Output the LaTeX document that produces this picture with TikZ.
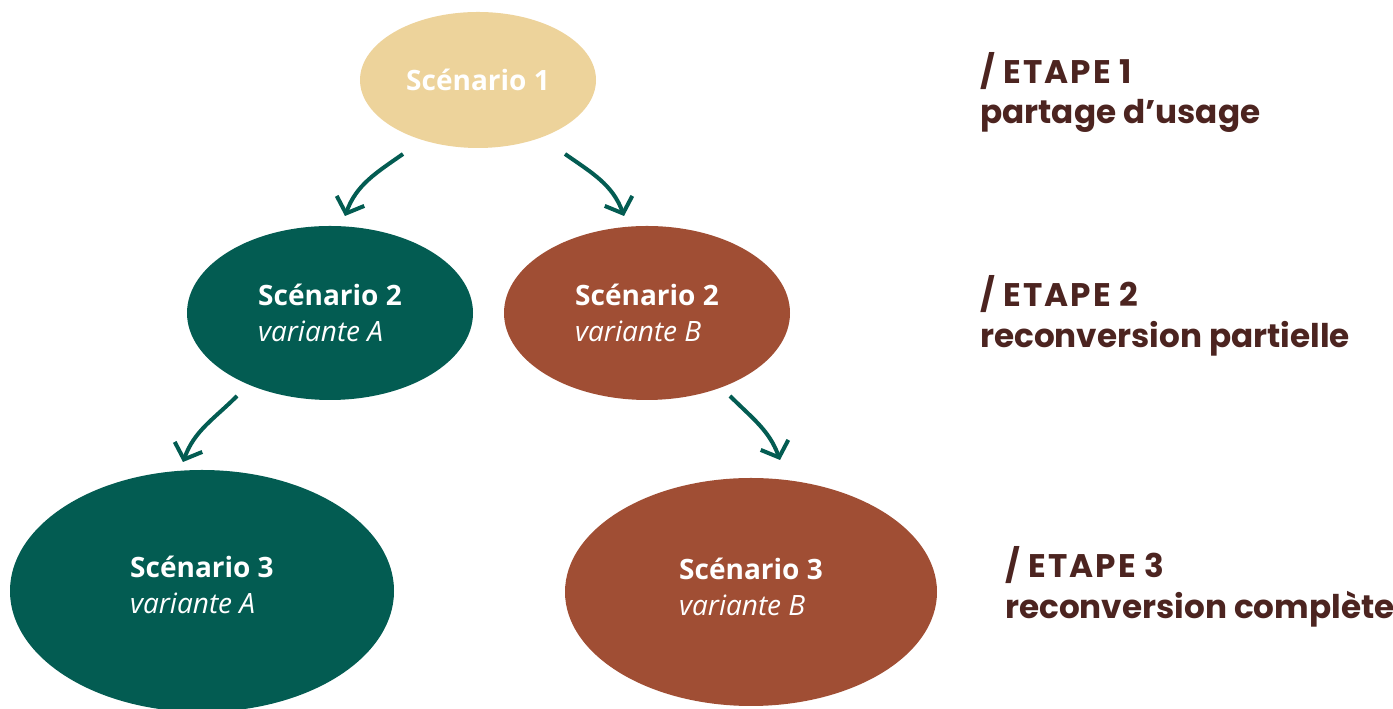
\documentclass[tikz,border=0pt]{standalone}
\usepackage{fontspec}
\setmainfont{Open Sans}
\newfontfamily\etapefont{Poppins}
\newfontfamily\etapehead[LetterSpace=6]{Poppins}
\usetikzlibrary{arrows.meta,shapes.geometric}
\definecolor{sand}{HTML}{EDD39B}
\definecolor{dkteal}{HTML}{035C52}
\definecolor{brick}{HTML}{A04E34}
\definecolor{etape}{HTML}{4C2420}
\newcommand\scenfs{\fontsize{21}{26.5}\selectfont}
\tikzset{
  blob/.style={ellipse, inner sep=0pt, text=white, align=left, font=\scenfs},
  lbl/.style={inner sep=0pt, text=white, align=left, font=\scenfs},
  arr/.style={draw=dkteal, line width=3pt, -{Straight Barb[length=10pt,width=22pt]}},
  etp/.style={anchor=base west, text=etape, inner sep=0pt, font=\etapefont\bfseries\fontsize{24.5}{28}\selectfont},
  etph/.style={etp, font=\etapehead\bfseries\fontsize{24.5}{28}\selectfont},
}
\begin{document}
\begin{tikzpicture}[x=0.75pt,y=0.75pt]
\useasboundingbox (0,0) rectangle (1393,709);
\node[blob, fill=sand, minimum width=177pt, minimum height=102pt] (s1) at (478,629)
  {\textbf{Scénario 1}};
\node[blob, fill=dkteal, minimum width=214.5pt, minimum height=130.5pt] (s2a) at (330,396)
  {\textbf{Scénario 2}\\\textit{variante A}};
\node[blob, fill=brick, minimum width=214.5pt, minimum height=130.5pt] (s2b) at (647,396)
  {\textbf{Scénario 2}\\\textit{variante B}};
\node[blob, fill=dkteal, minimum width=288pt, minimum height=181.5pt] (s3a) at (202,118) {};
\node[lbl] (t3a) at (202,124) {\textbf{Scénario 3}\\\textit{variante A}};
\node[blob, fill=brick, minimum width=279pt, minimum height=171pt] (s3b) at (751,117) {};
\node[lbl] (t3b) at (751,122) {\textbf{Scénario 3}\\\textit{variante B}};
\coordinate (a1s) at (403,555); \coordinate (a1e) at (345,493);
\coordinate (a2s) at (565,555); \coordinate (a2e) at (624,493);
\coordinate (a3s) at (237,313); \coordinate (a3e) at (183,247);
\coordinate (a4s) at (730,313); \coordinate (a4e) at (780,249);
\draw[arr] (a1s) to[out=215,in=70] (a1e);
\draw[arr] (a2s) to[out=-35,in=110] (a2e);
\draw[arr] (a3s) to[out=225,in=70] (a3e);
\draw[arr] (a4s) to[out=-45,in=110] (a4e);
\node[etph] (e1a) at (980,625) {/ ETAPE 1};
\node[etp] (e1b) at (980,585) {partage d’usage};
\node[etph] (e2a) at (980,402) {/ ETAPE 2};
\node[etp] (e2b) at (980,361) {reconversion partielle};
\node[etph] (e3a) at (1005,131) {/ ETAPE 3};
\node[etp] (e3b) at (1005,90) {reconversion complète};
\end{tikzpicture}
\end{document}
